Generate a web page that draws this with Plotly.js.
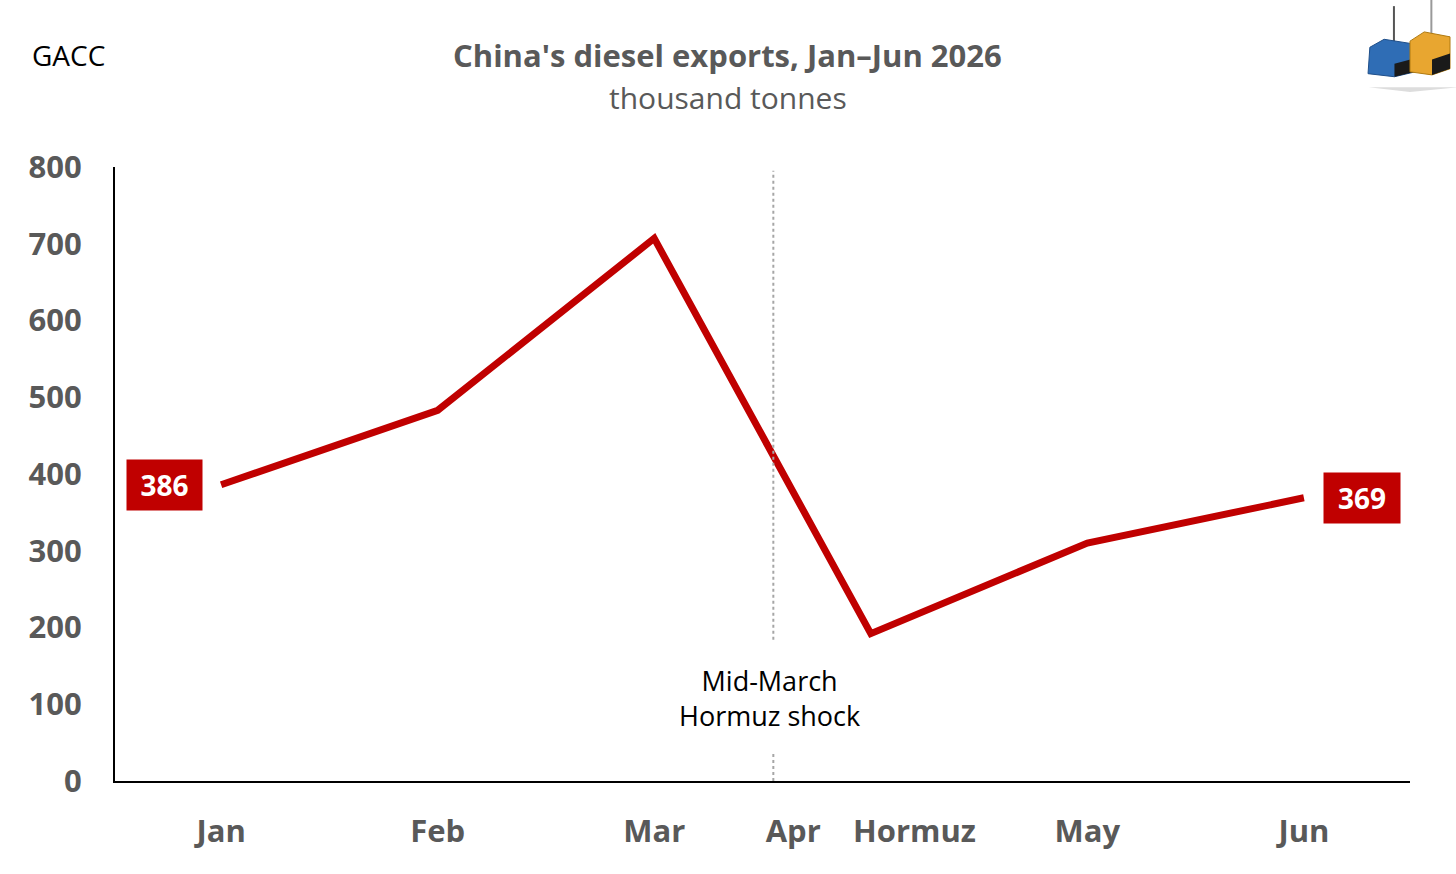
<!DOCTYPE html>
<html>
<head>
<meta charset="utf-8">
<script src="https://cdn.plot.ly/plotly-3.0.1.min.js"></script>
<style>html,body{margin:0;padding:0;background:#fff;}#chart{width:1456px;height:874px;}</style>
</head>
<body>
<div id="chart"></div>
<script>
const months = ['Jan', 'Feb', 'Mar', 'Apr', 'May', 'Jun'];
const tickLabels = ['Jan', 'Feb', 'Mar', 'Apr\u00a0\u00a0\u00a0\u00a0Hormuz', 'May', 'Jun'];
const exportsKt = [386, 483, 707, 192, 310, 369];
const yTicks = [0, 100, 200, 300, 400, 500, 600, 700, 800];
const shockPosition = 2.55; // mid-March, between Mar and Apr
const shockLabel = 'Mid-March<br>Hormuz shock';

const xIdx = months.map((m, i) => i);
const FONT = '"Open Sans", "Noto Sans", sans-serif';
const GRAY = '#595959';
const RED = '#c00000';

const trace = {
  x: xIdx, y: exportsKt, type: 'scatter', mode: 'lines',
  line: {color: RED, width: 7}, hoverinfo: 'skip', showlegend: false
};

const annotations = [
  {xref: 'paper', yref: 'paper', x: -0.066, y: 1.182, xanchor: 'left', yanchor: 'middle',
   text: 'GACC', showarrow: false, font: {family: FONT, size: 28, color: '#000'}},
  {xref: 'paper', yref: 'paper', x: 0.473, y: 1.182, xanchor: 'center', yanchor: 'middle',
   text: "<b>China's diesel exports, Jan\u2013Jun 2026</b>", showarrow: false,
   font: {family: FONT, size: 31, color: GRAY}},
  {xref: 'paper', yref: 'paper', x: 0.473, y: 1.114, xanchor: 'center', yanchor: 'middle',
   text: 'thousand tonnes', showarrow: false, font: {family: FONT, size: 30, color: GRAY}},
  {x: shockPosition, y: 108, xref: 'x', yref: 'y', text: shockLabel, showarrow: false,
   font: {family: FONT, size: 27, color: '#000'}, align: 'center', xshift: -4},
  {x: xIdx[0], y: exportsKt[0], xref: 'x', yref: 'y', text: '<b>' + exportsKt[0] + '</b>',
   showarrow: false, xshift: -57, bgcolor: RED, width: 73, height: 48,
   font: {family: FONT, size: 28, color: '#fff'}},
  {x: xIdx[5], y: exportsKt[5], xref: 'x', yref: 'y', text: '<b>' + exportsKt[5] + '</b>',
   showarrow: false, xshift: 58, bgcolor: RED, width: 74, height: 48,
   font: {family: FONT, size: 28, color: '#fff'}}
];

const shapes = [
  {type: 'line', xref: 'x', yref: 'y', x0: shockPosition, x1: shockPosition, y0: 184, y1: 795,
   line: {color: '#a6a6a6', width: 2, dash: 'dot'}},
  {type: 'line', xref: 'x', yref: 'y', x0: shockPosition, x1: shockPosition, y0: 0, y1: 38,
   line: {color: '#a6a6a6', width: 2, dash: 'dot'}},
  // logo approximation (two hanging containers)
  {type: 'line', xref: 'paper', yref: 'paper', x0: 0.9876, x1: 0.9876, y0: 1.205, y1: 1.262, line: {color: '#555', width: 2}},
  {type: 'line', xref: 'paper', yref: 'paper', x0: 1.0165, x1: 1.0165, y0: 1.215, y1: 1.272, line: {color: '#999', width: 2}},
  {type: 'path', xref: 'paper', yref: 'paper', path: 'M 1.0375 1.130 L 0.9680 1.130 L 1.0000 1.122 Z', fillcolor: '#dddddd', line: {width: 0}},
  {type: 'path', xref: 'paper', yref: 'paper', path: 'M 0.9676 1.152 L 0.9690 1.195 L 0.9800 1.208 L 1.0039 1.200 L 1.0039 1.155 L 0.9880 1.147 Z',
   fillcolor: '#2f6db5', line: {color: '#1f4f8a', width: 1}},
  {type: 'path', xref: 'paper', yref: 'paper', path: 'M 0.9880 1.147 L 0.9880 1.168 L 1.0039 1.177 L 1.0039 1.155 Z',
   fillcolor: '#1a1a1a', line: {width: 0}},
  {type: 'path', xref: 'paper', yref: 'paper', path: 'M 1.0000 1.155 L 1.0000 1.205 L 1.0110 1.220 L 1.0309 1.212 L 1.0309 1.160 L 1.0170 1.150 Z',
   fillcolor: '#e8a630', line: {color: '#b07a10', width: 1}},
  {type: 'path', xref: 'paper', yref: 'paper', path: 'M 1.0170 1.150 L 1.0170 1.175 L 1.0309 1.185 L 1.0309 1.160 Z',
   fillcolor: '#1a1a1a', line: {width: 0}}
];

const layout = {
  width: 1456, height: 874,
  margin: {l: 115, r: 46, t: 167, b: 93},
  paper_bgcolor: '#fff', plot_bgcolor: '#fff',
  font: {family: FONT},
  xaxis: {
    range: [-0.49, 5.49], tickmode: 'array', tickvals: xIdx, ticktext: tickLabels,
    showgrid: false, zeroline: false, showline: true, linecolor: '#000', linewidth: 2,
    ticks: '', ticklabelstandoff: 22,
    tickfont: {family: FONT, size: 31, color: GRAY, weight: 'bold'}, fixedrange: true
  },
  yaxis: {
    range: [0, 800], tickmode: 'array', tickvals: yTicks, ticktext: yTicks.map(String),
    showgrid: false, zeroline: false, showline: true, linecolor: '#000', linewidth: 2,
    ticks: '', ticklabelstandoff: 25,
    tickfont: {family: FONT, size: 31, color: GRAY, weight: 'bold'}, fixedrange: true
  },
  annotations: annotations,
  shapes: shapes,
  showlegend: false
};

Plotly.newPlot('chart', [trace], layout, {displayModeBar: false, staticPlot: true});
</script>
</body>
</html>
